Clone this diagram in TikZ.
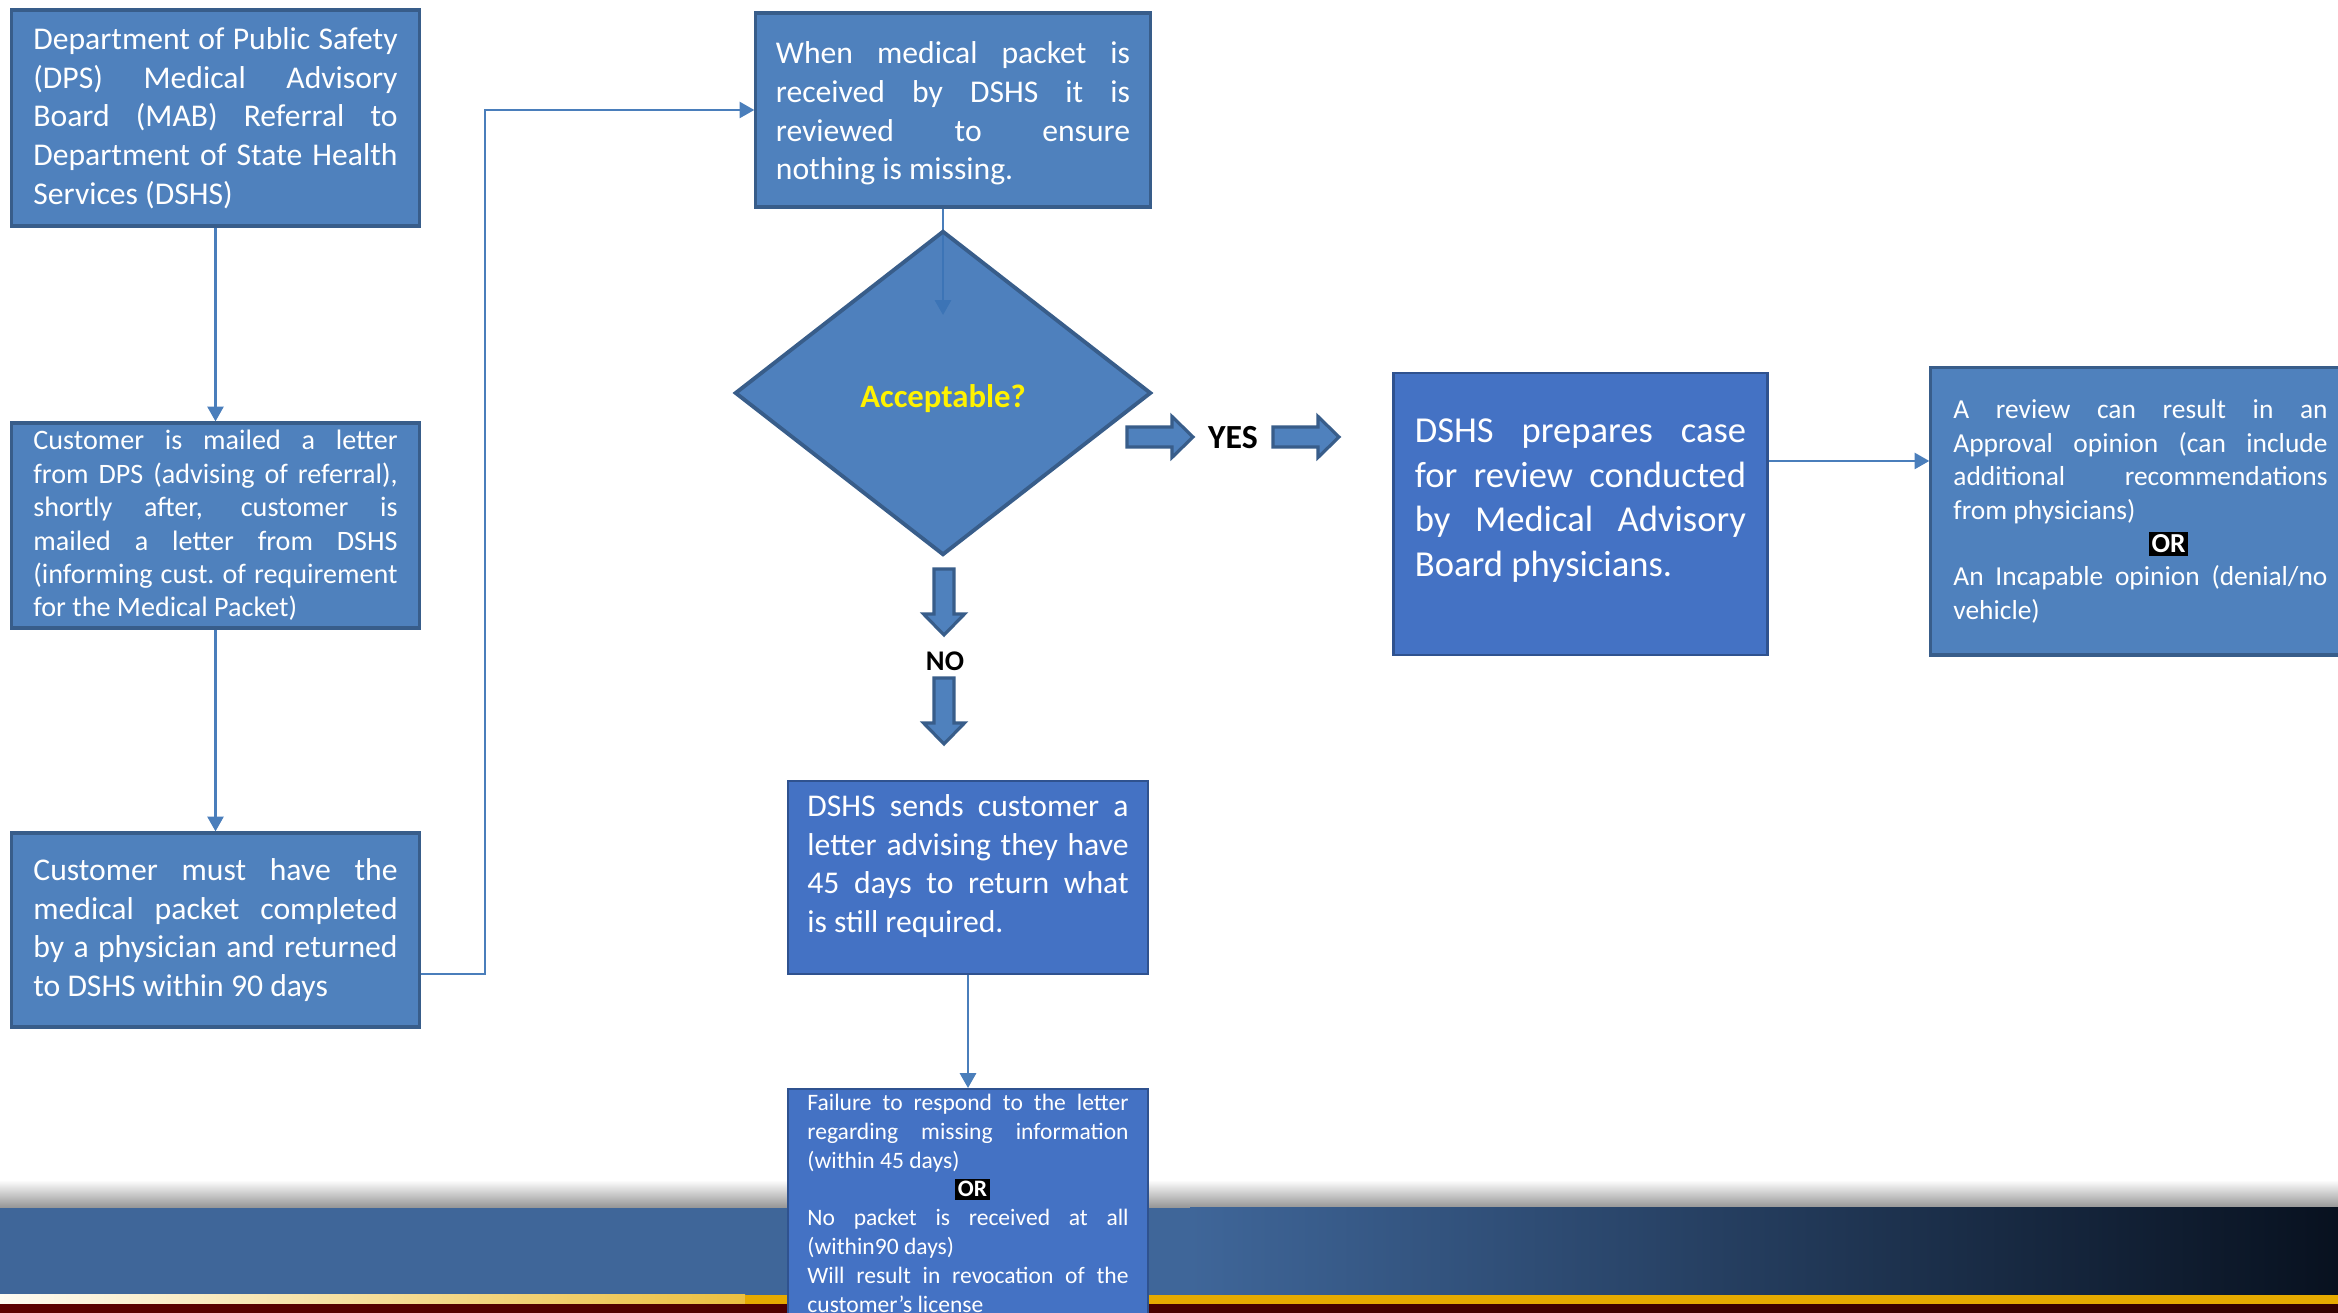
\documentclass[tikz,border=0pt]{standalone}
\usepackage{fontspec}
\setmainfont{Carlito}[WordSpace={1,1,0}]
\usetikzlibrary{shapes.geometric,arrows.meta,backgrounds}

\definecolor{boxblue}{HTML}{4F81BD}
\definecolor{boxline}{HTML}{385D8A}
\definecolor{diamondblue}{HTML}{3B73B6}
\definecolor{caseblue}{HTML}{4472C4}
\definecolor{caseline}{HTML}{2F528F}
\definecolor{linkblue}{HTML}{4A7EBB}
\definecolor{bandblue}{HTML}{3F6699}
\definecolor{banddark}{HTML}{08111F}
\definecolor{bandgold}{HTML}{E6AA00}
\definecolor{bandred}{HTML}{5C0000}

\tolerance=9999
\emergencystretch=1em
\hyphenpenalty=10000
\fboxsep=0.8pt

\newcommand{\ortag}[1][0pt]{\par\centerline{\hspace{#1}\colorbox{black}{\textcolor{white}{\bfseries OR}}}\par}

\tikzstyle{box}=[rectangle,fill=boxblue,draw=boxline,line width=0.9pt,text=white,align=justify,inner sep=0pt]
\tikzstyle{case box}=[box,fill=caseblue,draw=caseline,line width=0.6pt]
\tikzstyle{decision}=[diamond,fill=diamondblue,fill opacity=0.9,text opacity=1,draw=boxline,line width=1.1pt,inner sep=0pt]
\tikzstyle{link}=[draw,line width=0.6pt,linkblue,-{Triangle[length=4.2pt,width=4.6pt]}]
\tikzstyle{block arrow}=[fill=boxblue,draw=boxline,line width=0.9pt]
\tikzstyle{answer}=[text=black,font=\bfseries]

\begin{document}
\begin{tikzpicture}[x=0.01cm,y=-0.01cm]
    \clip (0,0) rectangle (2338,1313);
    \begin{scope}[on background layer]
    \fill[white] (0,0) rectangle (2338,1313);
    \end{scope}
    % Footer band
    \fill[top color=white,bottom color=black!42] (0,1180) rectangle (2338,1208);
    \fill[bandblue] (0,1208) rectangle (1190,1295);
    \fill[left color=bandblue,right color=banddark] (1190,1208) rectangle (2338,1295);
    \fill[left color=white!95!bandgold,right color=bandgold!75] (0,1295) rectangle (745,1305);
    \fill[bandgold] (745,1295) rectangle (2338,1305);
    \fill[left color=bandred,right color=bandred!55!black] (0,1305) rectangle (2338,1313);
    % Left column
    \node[box,minimum width=4.07cm,minimum height=2.16cm,text width=3.64cm,font=\fontsize{9}{11}\selectfont] (dps) at (215.5,118)
        {Department of Public Safety (DPS) Medical Advisory Board (MAB) Referral to Department of State Health Services (DSHS)};
    \node[box,minimum width=4.07cm,minimum height=2.05cm,text width=3.64cm,font=\fontsize{8}{9.5}\selectfont] (mailed) at (215.5,525.5)
        {Customer is mailed a letter from DPS (advising of referral), shortly after, customer is mailed a letter from DSHS (informing cust.\ of requirement for the Medical Packet)};
    \node[box,minimum width=4.07cm,minimum height=1.94cm,text width=3.64cm,font=\fontsize{9}{11}\selectfont] (must) at (215.5,930)
        {Customer must have the medical packet completed by a physician and returned to DSHS within 90 days};
    % Middle column
    \node[box,minimum width=3.94cm,minimum height=1.94cm,text width=3.54cm,text depth=32.6pt,font=\fontsize{9}{11}\selectfont] (received) at (953,110)
        {When medical packet is\linebreak received by DSHS it is\linebreak reviewed to ensure\linebreak nothing is missing.};
    \node[decision,minimum width=4.16cm,minimum height=3.24cm,text=yellow,text height=9.6pt,font=\fontsize{9.3}{11}\selectfont\bfseries] (check) at (943,393) {Acceptable?};
    \node[case box,minimum width=3.60cm,minimum height=1.93cm,text width=3.21cm,text depth=41pt,font=\fontsize{9}{11}\selectfont] (sends) at (968,877.5)
        {DSHS sends customer a\linebreak letter advising they have\linebreak 45 days to return what\linebreak is still required.};
    \node[case box,anchor=north,minimum width=3.60cm,text width=3.21cm,inner ysep=0.05cm,font=\fontsize{6.7}{8.2}\selectfont] (failure) at (968,1088)
        {Failure to respond to the letter regarding missing information (within 45 days)\ortag[0.09cm] No packet is received at all (within90 days)\par Will result in revocation of the customer’s license};
    % Right side
    \node[case box,minimum width=3.73cm,minimum height=2.82cm,text width=3.31cm,text depth=47.5pt,line width=0.8pt,font=\fontsize{10.4}{12.7}\selectfont] (prepares) at (1580.5,514)
        {DSHS prepares case for review conducted by Medical Advisory Board physicians.};
    \node[box,minimum width=4.19cm,minimum height=2.87cm,text width=3.74cm,font=\fontsize{7.8}{9.5}\selectfont] (review) at (2140.5,511.5)
        {A review can result in an Approval opinion (can include additional recommendations from physicians)\ortag[0.56cm] An Incapable opinion (denial/no vehicle)};
    % Yes / no labels and block arrows
    \node[answer,font=\fontsize{9.6}{11}\selectfont\bfseries] (yes) at (1233,438) {YES};
    \node[answer,font=\fontsize{8.1}{10}\selectfont\bfseries] (no) at (945,661) {NO};
    \foreach \pos/\turn in {{(1127,437)/0},{(1273,437)/0},{(944,569)/-90},{(944,678)/-90}}
    \draw[block arrow,shift={\pos},rotate=\turn] (0,-10) -- (45,-10) -- (45,-20.5) -- (66,0) -- (45,20.5) -- (45,10) -- (0,10) -- cycle;
    % Connectors
    \draw[link] (dps) -- (mailed);
    \draw[link] (mailed) -- (must);
    \draw[link] ([yshift=-0.44cm]must.east) -- ++(64,0) |- (received.west);
    \begin{scope}[on background layer]
    \draw[link] (received.south -| check.north) -- ([yshift=-0.86cm]check.north);
    \end{scope}
    \coordinate (out) at ([yshift=0.53cm]prepares.east);
    \draw[link] (out) -- (out -| review.west);
    \draw[link] (sends) -- (failure);
\end{tikzpicture}
\end{document}
